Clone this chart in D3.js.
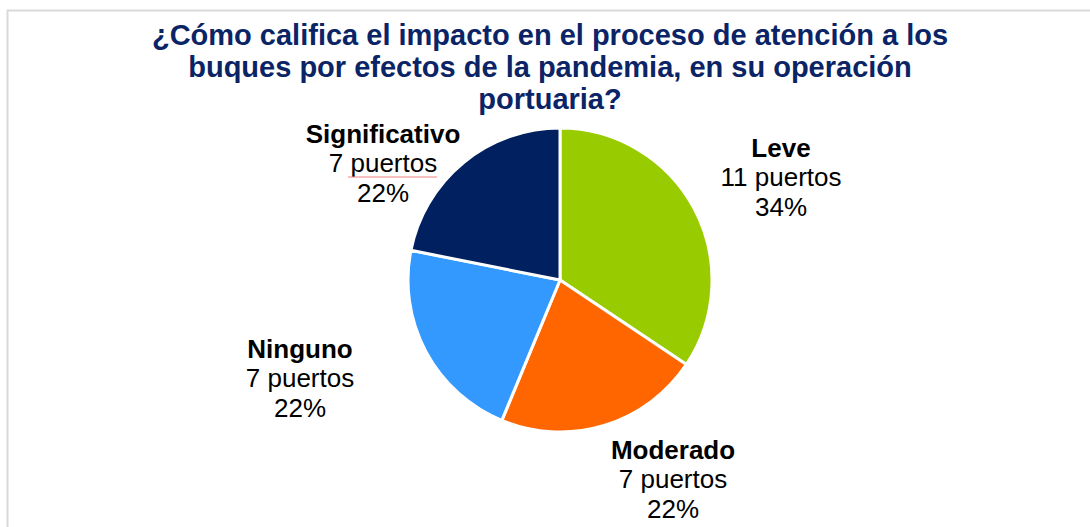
<!DOCTYPE html>
<html>
<head>
<meta charset="utf-8">
<script src="https://cdn.jsdelivr.net/npm/d3@7"></script>
<style>
  body { margin: 0; background: #fff; }
  svg { display: block; font-family: "Liberation Sans", Arial, sans-serif; }
</style>
</head>
<body>
<svg id="chart" width="1090" height="527"></svg>
<script>
// data
const categories = ["Leve", "Moderado", "Ninguno", "Significativo"]
const ports = [11, 7, 7, 7]
const percents = ["34%", "22%", "22%", "22%"]
const colors = ["#99cc00", "#ff6600", "#3399ff", "#002060"]
const titleLines = [
    "¿Cómo califica el impacto en el proceso de atención a los",
    "buques por efectos de la pandemia, en su operación",
    "portuaria?"
]

// label anchors (middle line baseline), chosen to match the layout
const labelAt = {
    "Leve": [781, 186],
    "Moderado": [673, 488],
    "Ninguno": [300, 387],
    "Significativo": [383, 172]
}

const svg = d3.select('#chart')
const cx = 560, cy = 280, radius = 152

// frame
svg.append('rect')
    .attr('x', 7.5)
    .attr('y', 10.5)
    .attr('width', 1100)
    .attr('height', 540)
    .attr('fill', 'none')
    .attr('stroke', '#d9d9d9')
    .attr('stroke-width', 2)

// title
svg.append('g')
    .selectAll('text')
    .data(titleLines)
    .join('text')
    .attr('x', 550)
    .attr('y', (d, i) => 45 + i * 32)
    .attr('text-anchor', 'middle')
    .attr('font-size', '29px')
    .attr('font-weight', 'bold')
    .attr('fill', '#0b2466')
    .text(d => d)

// pie
const pie = d3.pie().sort(null).value(d => d.v)
const arc = d3.arc().innerRadius(0).outerRadius(radius)
const data = categories.map((c, i) => ({ c: c, v: ports[i], p: percents[i], col: colors[i] }))

svg.append('g')
    .attr('transform', `translate(${cx},${cy})`)
    .selectAll('path')
    .data(pie(data))
    .join('path')
    .attr('d', arc)
    .attr('fill', d => d.data.col)
    .attr('stroke', '#fff')
    .attr('stroke-width', 3)
    .attr('stroke-linejoin', 'round')

// labels
const labels = svg.append('g')
    .selectAll('text')
    .data(data)
    .join('text')
    .attr('text-anchor', 'middle')
    .attr('font-size', '26px')
    .attr('fill', '#000')

labels.each(function(d) {
    const [x, y] = labelAt[d.c]
    const t = d3.select(this)
    t.append('tspan').attr('x', x).attr('y', y - 29.5).attr('font-weight', 'bold').text(d.c)
    t.append('tspan').attr('x', x).attr('y', y).text(d.v + ' puertos')
    t.append('tspan').attr('x', x).attr('y', y + 29.5).text(d.p)
})

// faint spell-check underline seen under "puertos" in the Significativo label
svg.append('path')
    .attr('d', 'M348,177 L437,177')
    .attr('stroke', '#f08080')
    .attr('stroke-width', 1)
    .attr('fill', 'none')
</script>
</body>
</html>
